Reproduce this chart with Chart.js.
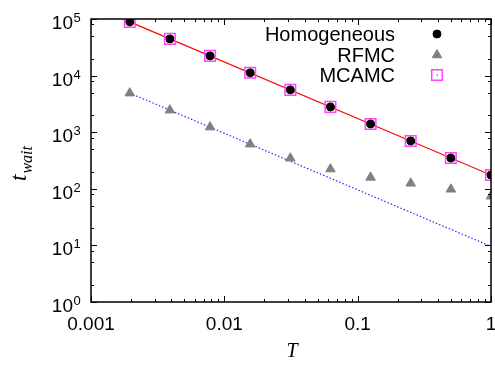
<!DOCTYPE html>
<html>
<head>
<meta charset="utf-8">
<script src="https://cdn.jsdelivr.net/npm/chart.js@4/dist/chart.umd.min.js"></script>
<style>
  html, body { margin: 0; padding: 0; background: #fff; }
</style>
</head>
<body>
<canvas id="waitChart" width="495" height="365"></canvas>
<script>
// temperatures (T = 2^-9 ... 1)
const temps = [0.001953125, 0.00390625, 0.0078125, 0.015625, 0.03125, 0.0625, 0.125, 0.25, 0.5, 1];
const homogeneous = [89000, 44500, 22300, 11200, 5600, 2800, 1400, 700, 350, 175];
const rfmc = [4900, 2450, 1230, 615, 347, 223, 159, 125, 98, 74];
const mcamc = [89000, 44500, 22300, 11200, 5600, 2800, 1400, 700, 350, 175];

// fitted power laws, given by their end points
const redFitT = [0.001953125, 1];
const redFitY = [89000, 175];
const blueFitT = [0.001953125, 1];
const blueFitY = [4900, 9.6];

const seriesNames = ['Homogeneous', 'RFMC', 'MCAMC'];

const xTickValues = [0.001, 0.01, 0.1, 1];
const xTickLabels = ['0.001', '0.01', '0.1', '1'];
const xMinor = [2, 3, 4, 5, 6, 7, 8, 9];
const yTickExponents = [0, 1, 2, 3, 4, 5];
const yMinor = [2, 5, 8];

const pts = (xs, ys) => xs.map((x, i) => ({ x, y: ys[i] }));

// frame, inward tick marks, tick labels, titles, legend
const FramePlugin = {
    id: 'framePlugin',
    afterDraw(chart) {
        const { ctx, chartArea: a, scales: { x, y } } = chart;
        ctx.save();

        // ticks
        ctx.strokeStyle = '#000';
        ctx.lineWidth = 1;
        ctx.beginPath();
        for (const v of xTickValues) {
            const decade = [v, ...xMinor.map(m => m * v)];
            decade.forEach((t, k) => {
                if (t > 1.0001) return;
                const px = Math.round(x.getPixelForValue(t)) + 0.5;
                const len = k === 0 ? 6 : 3;
                ctx.moveTo(px, a.bottom); ctx.lineTo(px, a.bottom - len);
                ctx.moveTo(px, a.top); ctx.lineTo(px, a.top + len);
            });
        }
        for (const e of yTickExponents) {
            const base = Math.pow(10, e);
            const decade = [base, ...yMinor.map(m => m * base)];
            decade.forEach((t, k) => {
                if (t > 100001) return;
                const py = Math.round(y.getPixelForValue(t)) + 0.5;
                const len = k === 0 ? 6 : 3;
                ctx.moveTo(a.left, py); ctx.lineTo(a.left + len, py);
                ctx.moveTo(a.right, py); ctx.lineTo(a.right - len, py);
            });
        }
        ctx.stroke();

        // frame
        ctx.lineWidth = 1.5;
        ctx.strokeRect(a.left, a.top, a.right - a.left, a.bottom - a.top);

        // x tick labels
        ctx.fillStyle = '#000';
        ctx.font = '19px "Liberation Sans", Arial, sans-serif';
        ctx.textAlign = 'center';
        ctx.textBaseline = 'alphabetic';
        xTickValues.forEach((v, i) => {
            ctx.fillText(xTickLabels[i], x.getPixelForValue(v), 330);
        });

        // y tick labels 10^n
        for (const e of yTickExponents) {
            const py = y.getPixelForValue(Math.pow(10, e));
            ctx.font = '19px "Liberation Sans", Arial, sans-serif';
            ctx.textAlign = 'right';
            ctx.fillText('10', 73, py + 10);
            ctx.font = '13px "Liberation Sans", Arial, sans-serif';
            ctx.textAlign = 'left';
            ctx.fillText(String(e), 73.5, py + 3);
        }

        // axis titles
        ctx.save();
        ctx.translate(26, 181);
        ctx.rotate(-Math.PI / 2);
        ctx.textAlign = 'left';
        ctx.font = 'italic 23px "Liberation Serif", "Times New Roman", serif';
        ctx.fillText('t', 0, 0);
        const tw = ctx.measureText('t').width;
        ctx.font = 'italic 16px "Liberation Serif", "Times New Roman", serif';
        ctx.fillText('wait', tw + 1, 6);
        ctx.restore();

        ctx.font = 'italic 20px "Liberation Serif", "Times New Roman", serif';
        ctx.textAlign = 'center';
        ctx.fillText('T', 292, 357);

        // legend
        const rows = [34, 55, 75];
        ctx.font = '20px "Liberation Sans", Arial, sans-serif';
        ctx.textAlign = 'right';
        ctx.textBaseline = 'middle';
        chart.data.datasets.slice(0, 3).forEach((ds, i) => {
            ctx.fillStyle = '#000';
            ctx.fillText(ds.label, 395, rows[i] + 1);
            ctx.fillStyle = ds.backgroundColor;
            ctx.strokeStyle = ds.borderColor;
            ctx.lineWidth = ds.borderWidth;
            Chart.helpers.drawPoint(ctx, {
                pointStyle: ds.pointStyle, radius: ds.pointRadius,
                rotation: 0, borderWidth: ds.borderWidth
            }, 437, rows[i]);
            if (ds.pointStyle === 'rect') {
                ctx.fillStyle = ds.borderColor;
                ctx.fillRect(436.5, rows[i] - 0.5, 1.5, 1.5);
            }
        });

        ctx.restore();
    }
};

const chart = new Chart(document.getElementById('waitChart'), {
    type: 'scatter',
    data: {
        datasets: [
            {
                label: seriesNames[0],
                data: pts(temps, homogeneous),
                pointStyle: 'circle',
                pointRadius: 4,
                backgroundColor: '#000',
                borderColor: '#000',
                borderWidth: 1
            },
            {
                label: seriesNames[1],
                data: pts(temps, rfmc),
                pointStyle: 'triangle',
                pointRadius: 5.5,
                backgroundColor: '#808080',
                borderColor: '#808080',
                borderWidth: 1
            },
            {
                label: seriesNames[2],
                data: pts(temps, mcamc),
                pointStyle: 'rect',
                pointRadius: 7.5,
                backgroundColor: 'rgba(0,0,0,0)',
                borderColor: '#ff44ff',
                borderWidth: 1.5
            },
            {
                label: 'fit homogeneous',
                type: 'line',
                data: pts(redFitT, redFitY),
                borderColor: '#ff0000',
                borderWidth: 1.2,
                pointRadius: 0,
                fill: false
            },
            {
                label: 'fit RFMC',
                type: 'line',
                data: pts(blueFitT, blueFitY),
                borderColor: '#2a2aff',
                borderWidth: 1.2,
                borderDash: [1.5, 2],
                pointRadius: 0,
                fill: false
            }
        ]
    },
    options: {
        responsive: false,
        devicePixelRatio: 1,
        animation: false,
        layout: { autoPadding: false, padding: { left: 0, right: 4, top: 19, bottom: 0 } },
        plugins: {
            legend: { display: false },
            tooltip: { enabled: false }
        },
        scales: {
            x: {
                type: 'logarithmic',
                min: 0.001,
                max: 1,
                grid: { display: false },
                border: { display: false },
                afterBuildTicks: s => { s.ticks = xTickValues.map(v => ({ value: v })); },
                afterFit: s => { s.height = 63; },
                ticks: { display: false }
            },
            y: {
                type: 'logarithmic',
                min: 1,
                max: 100000,
                grid: { display: false },
                border: { display: false },
                afterBuildTicks: s => { s.ticks = yTickExponents.map(e => ({ value: Math.pow(10, e) })); },
                afterFit: s => { s.width = 91; },
                ticks: { display: false }
            }
        }
    },
    plugins: [FramePlugin]
});
</script>
</body>
</html>
